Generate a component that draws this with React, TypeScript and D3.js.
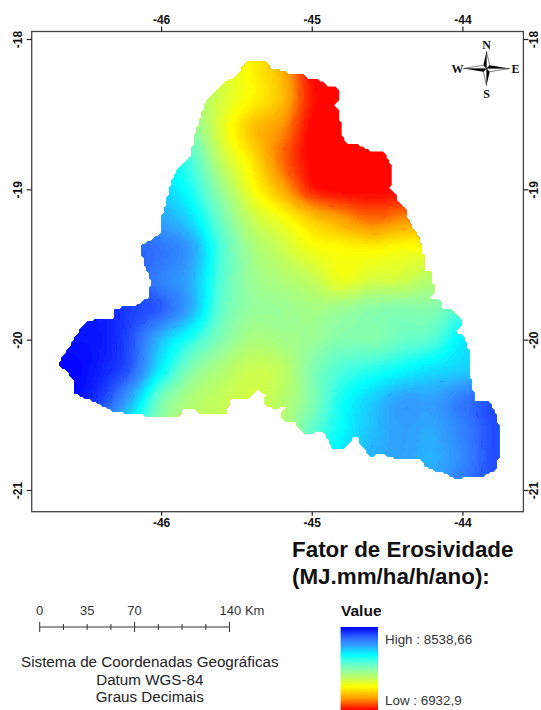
import React, { useEffect, useMemo, useRef } from "react";
import * as d3 from "d3";

const W = 541, H = 710;
const lonTicks = [-46, -45, -44];
const latTicks = [-18, -19, -20, -21];
const lowValue = "6932,9";
const highValue = "8538,66";

// Position of each node on the raster ramp, 0 = Low (red), 100 = High (blue)
const gridLon = [-46.8,-46.6,-46.4,-46.2,-46,-45.8,-45.6,-45.4,-45.2,-45,-44.8,-44.6,-44.4,-44.2,-44,-43.8,-43.6];
const gridLat = [-18,-18.2,-18.4,-18.6,-18.8,-19,-19.2,-19.4,-19.6,-19.8,-20,-20.2,-20.4,-20.6,-20.8,-21];
const gridRamp = [
[60,60,60,60,55,45,35,28,18,2,0,0,0,0,0,0,0],
[60,60,60,60,55,48,36,27,18,1,0,0,0,0,0,0,0],
[62,62,62,60,55,46,35,27,19,2,0,0,0,0,0,0,0],
[65,65,65,65,60,50,33,20,13,0,0,0,0,0,0,0,0],
[70,70,70,70,65,58,38,25,10,0,0,0,0,0,0,0,0],
[80,80,78,76,72,63,46,30,17,3,0,0,0,0,2,2,2],
[90,88,86,84,78,70,53,38,30,21,15,10,13,15,20,20,20],
[94,92,90,88,85,78,58,44,37,30,28,27,29,30,30,30,30],
[96,94,92,90,83,76,57,46,42,38,31,35,36,41,45,45,45],
[98,97,96,92,88,76,55,47,46,44,46,49,50,50,58,60,60],
[99,98,97,90,74,62,50,43,44,46,50,50,54,57,68,70,70],
[100,100,96,88,67,50,42,37,39,50,58,62,66,70,72,76,78],
[100,99,92,76,52,42,38,36,40,50,64,72,78,78,84,90,90],
[100,96,84,66,48,42,38,38,42,55,66,74,78,77,83,90,90],
[100,96,84,66,48,42,38,40,48,60,70,76,78,76,82,90,90],
[100,96,84,66,48,42,38,40,48,62,72,78,78,78,85,90,90],
];

const boundaryLon = [-45.455,-45.432,-45.306,-45.271,-45.203,-45.123,-45.054,-45.031,-44.951,-44.905,-44.818,-44.818,-44.852,-44.825,-44.82,-44.793,-44.793,-44.767,-44.676,-44.607,-44.515,-44.493,-44.463,-44.463,-44.481,-44.435,-44.424,-44.378,-44.355,-44.321,-44.293,-44.263,-44.247,-44.257,-44.199,-44.192,-44.218,-44.149,-44.137,-44.08,-44.011,-44.007,-44.05,-44,-43.959,-43.954,-43.927,-43.92,-43.828,-43.782,-43.759,-43.759,-43.782,-43.863,-43.989,-44.023,-44.08,-44.137,-44.172,-44.241,-44.28,-44.321,-44.424,-44.515,-44.619,-44.641,-44.687,-44.687,-44.722,-44.779,-44.859,-44.893,-44.928,-45.031,-45.077,-45.111,-45.18,-45.21,-45.164,-45.249,-45.317,-45.306,-45.363,-45.42,-45.546,-45.569,-45.741,-45.787,-45.867,-45.874,-45.993,-46.153,-46.314,-46.428,-46.577,-46.577,-46.623,-46.68,-46.612,-46.543,-46.479,-46.314,-46.318,-46.222,-46.142,-46.073,-46.069,-46.119,-46.124,-46.062,-46.005,-45.993,-45.963,-45.924,-45.879,-45.798,-45.775,-45.753,-45.695,-45.604,-45.489];
const boundaryLat = [-18.173,-18.157,-18.157,-18.195,-18.21,-18.241,-18.237,-18.259,-18.272,-18.306,-18.328,-18.405,-18.445,-18.472,-18.534,-18.565,-18.649,-18.693,-18.707,-18.744,-18.749,-18.804,-18.859,-18.915,-19.003,-19.037,-19.092,-19.132,-19.214,-19.269,-19.313,-19.424,-19.513,-19.535,-19.557,-19.69,-19.723,-19.739,-19.79,-19.796,-19.856,-19.911,-19.945,-19.973,-20.066,-20.233,-20.354,-20.416,-20.403,-20.487,-20.576,-20.775,-20.864,-20.908,-20.908,-20.93,-20.908,-20.875,-20.875,-20.842,-20.786,-20.786,-20.797,-20.764,-20.771,-20.731,-20.675,-20.638,-20.642,-20.72,-20.731,-20.653,-20.602,-20.631,-20.587,-20.547,-20.547,-20.492,-20.443,-20.461,-20.432,-20.365,-20.332,-20.388,-20.399,-20.498,-20.498,-20.454,-20.454,-20.52,-20.514,-20.498,-20.476,-20.421,-20.354,-20.277,-20.21,-20.166,-20.055,-19.945,-19.874,-19.856,-19.805,-19.779,-19.767,-19.712,-19.601,-19.468,-19.369,-19.336,-19.302,-19.18,-19.081,-18.937,-18.848,-18.771,-18.649,-18.571,-18.405,-18.306,-18.239];

const rampStops = [0,14,28,38,48,58,66,78,86,100];
const rampColors = ["#ff0000","#ff9a00","#ffff00","#c4ff5a","#90ffa4","#50ffdc","#00ffff","#30a0ff","#3070ff","#0000ff"];
const warmLevels = [9, 18, 36, 44, 52];
const coolLevels = [62, 75, 88, 94];

const scaleKm = [0,35,70,140];
const scaleMinor = [0,17.5,35,52.5,70,87.5,105,122.5,140];
const noteLines = ["Sistema de Coordenadas Geográficas","Datum WGS-84","Graus Decimais"];

const frame = { l: 31.7, r: 523.4, t: 31.5, b: 511.7 };
const FONT = "'Liberation Sans', Arial, sans-serif";
const x = d3.scaleLinear().domain([-46, -44]).range([161.1, 462.4]);
const y = d3.scaleLinear().domain([-18, -21]).range([39, 490]);
const ramp = d3.scaleLinear<string>().domain(rampStops).range(rampColors).interpolate(d3.interpolateRgb).clamp(true);
const CELL = 2.5;

function catmull(p0: number, p1: number, p2: number, p3: number, t: number) {
  return 0.5 * (2 * p1 + (p2 - p0) * t + (2 * p0 - 5 * p1 + 4 * p2 - p3) * t * t + (3 * p1 - p0 - 3 * p2 + p3) * t * t * t);
}
function sample(lon: number, lat: number) {
  const nc = gridLon.length, nr = gridLat.length;
  const fc = Math.max(0, Math.min(nc - 1.001, (lon - gridLon[0]) / 0.2));
  const fr = Math.max(0, Math.min(nr - 1.001, (gridLat[0] - lat) / 0.2));
  const c = Math.floor(fc), r = Math.floor(fr);
  const at = (a: number, b: number) => gridRamp[Math.max(0, Math.min(nr - 1, a))][Math.max(0, Math.min(nc - 1, b))];
  const rowV = [-1, 0, 1, 2].map((k) => catmull(at(r + k, c - 1), at(r + k, c), at(r + k, c + 1), at(r + k, c + 2), fc - c));
  return Math.max(0, Math.min(100, catmull(rowV[0], rowV[1], rowV[2], rowV[3], fr - r)));
}

function Compass({ cx, cy }: { cx: number; cy: number }) {
  const a = 3.2, n = 17, e = 23;
  return (
    <g>
      <polygon points={`${cx},${cy - n} ${cx - a},${cy - a} ${cx},${cy}`} fill="#000" />
      <polygon points={`${cx},${cy - n} ${cx + a},${cy - a} ${cx},${cy}`} fill="#fff" stroke="#000" strokeWidth={0.5} />
      <polygon points={`${cx},${cy + n} ${cx + a},${cy + a} ${cx},${cy}`} fill="#000" />
      <polygon points={`${cx},${cy + n} ${cx - a},${cy + a} ${cx},${cy}`} fill="#fff" stroke="#000" strokeWidth={0.5} />
      <polygon points={`${cx - e},${cy} ${cx - a},${cy + a} ${cx},${cy}`} fill="#000" />
      <polygon points={`${cx - e},${cy} ${cx - a},${cy - a} ${cx},${cy}`} fill="#fff" stroke="#000" strokeWidth={0.5} />
      <polygon points={`${cx + e},${cy} ${cx + a},${cy - a} ${cx},${cy}`} fill="#000" />
      <polygon points={`${cx + e},${cy} ${cx + a},${cy + a} ${cx},${cy}`} fill="#fff" stroke="#000" strokeWidth={0.5} />
      <g fontFamily="'Liberation Serif', serif" fontWeight="bold" fontSize={12} textAnchor="middle" fill="#111">
        <text x={cx} y={cy - 20}>N</text>
        <text x={cx} y={cy + 29}>S</text>
        <text x={cx - 29} y={cy + 4}>W</text>
        <text x={cx + 29} y={cy + 4}>E</text>
      </g>
    </g>
  );
}

export default function App() {
  const topRef = useRef<SVGGElement>(null);
  const botRef = useRef<SVGGElement>(null);
  const leftRef = useRef<SVGGElement>(null);
  const rightRef = useRef<SVGGElement>(null);

  const { bands, lines, outline } = useMemo(() => {
    const poly = boundaryLon.map((v, i) => [v, boundaryLat[i]] as [number, number]);
    const nx = Math.ceil((frame.r - frame.l) / CELL), ny = Math.ceil((frame.b - frame.t) / CELL);
    const vals = new Array(nx * ny);
    const full = new Array(nx * ny);
    for (let j = 0; j < ny; j++)
      for (let i = 0; i < nx; i++) {
        const lon = x.invert(frame.l + (i + 0.5) * CELL), lat = y.invert(frame.t + (j + 0.5) * CELL);
        const v = sample(lon, lat);
        full[j * nx + i] = v;
        vals[j * nx + i] = d3.polygonContains(poly, [lon, lat]) ? v : NaN;
      }
    const path = d3.geoPath();
    const gen = d3.contours().size([nx, ny]).smooth(false).thresholds(d3.range(0, 100, 1));
    const bands = gen(vals as number[]).map((c) => ({ t: c.value, d: path(c) || "" }));
    const lineGen = d3.contours().size([nx, ny]).smooth(false).thresholds([...warmLevels, ...coolLevels]);
    const lines = lineGen(full as number[]).map((c) => ({ t: c.value, d: path(c) || "" }));
    const outline = poly.map(([a, b]) => `${(x(a) - frame.l) / CELL},${(y(b) - frame.t) / CELL}`).join(" ");
    return { bands, lines, outline };
  }, []);

  useEffect(() => {
    const fmt = (d: d3.NumberValue) => String(d);
    const style = (g: d3.Selection<SVGGElement, unknown, null, undefined>) => {
      g.select(".domain").remove();
      g.selectAll("line").attr("stroke", "#222").attr("stroke-width", 1.2);
      g.selectAll("text").attr("font-family", FONT).attr("font-size", 12).attr("font-weight", "bold").attr("fill", "#111");
    };
    d3.select(topRef.current!).call(d3.axisTop(x).tickValues(lonTicks).tickFormat(fmt).tickSize(5).tickPadding(3)).call(style);
    d3.select(botRef.current!).call(d3.axisBottom(x).tickValues(lonTicks).tickFormat(fmt).tickSize(4).tickPadding(2.5)).call(style);
    d3.select(leftRef.current!).call(d3.axisLeft(y).tickValues(latTicks).tickFormat(fmt).tickSize(5).tickPadding(3)).call(style);
    d3.select(rightRef.current!).call(d3.axisRight(y).tickValues(latTicks).tickFormat(fmt).tickSize(5).tickPadding(3)).call(style);
    d3.select(leftRef.current!).selectAll("text").attr("transform", "rotate(-90)").attr("x", 0).attr("y", -14).attr("dy", "0.35em").attr("text-anchor", "middle");
    d3.select(rightRef.current!).selectAll("text").attr("transform", "rotate(-90)").attr("x", 0).attr("y", 10.5).attr("dy", "0.35em").attr("text-anchor", "middle");
  }, []);

  const kmScale = d3.scaleLinear().domain([0, 140]).range([39.7, 229.5]);
  const legendStops = rampStops.map((s) => ({ off: 100 - s, col: ramp(s) })).reverse();

  return (
    <svg width={W} height={H} style={{ position: "absolute", left: 0, top: 0, display: "block", background: "#fff" }}>
      <defs>
        <linearGradient id="legendRamp" x1="0" y1="0" x2="0" y2="1">
          {legendStops.map((s) => (
            <stop key={s.off} offset={`${s.off}%`} stopColor={s.col} />
          ))}
        </linearGradient>
        <clipPath id="areaClip">
          <polygon points={outline} />
        </clipPath>
      </defs>
      <g transform={`translate(${frame.l},${frame.t}) scale(${CELL})`}>
        {bands.map((b) => (
          <path key={b.t} d={b.d} fill={ramp(b.t + 0.5)} stroke="none" />
        ))}
        <g clipPath="url(#areaClip)" fill="none">
          {lines.map((l) => (
            <path
              key={l.t}
              d={l.d}
              stroke={ramp(warmLevels.includes(l.t) ? l.t - 7 : l.t + 7)}
              strokeWidth={0.26}
              strokeDasharray="3 9"
              opacity={0.6}
            />
          ))}
        </g>
      </g>
      <rect x={frame.l} y={frame.t} width={frame.r - frame.l} height={frame.b - frame.t} fill="none" stroke="#444" strokeWidth={1.3} />
      <g ref={topRef} transform={`translate(0,${frame.t})`} />
      <g ref={botRef} transform={`translate(0,${frame.b})`} />
      <g ref={leftRef} transform={`translate(${frame.l},0)`} />
      <g ref={rightRef} transform={`translate(${frame.r},0)`} />
      <Compass cx={486.5} cy={68.5} />

      <g fontFamily={FONT} fontWeight="bold" fontSize={22.4} fill="#111">
        <text x={292} y={557}>Fator de Erosividade</text>
        <text x={292} y={584}>(MJ.mm/ha/h/ano):</text>
      </g>
      <text x={341} y={616} fontFamily={FONT} fontWeight="bold" fontSize={15.5} fill="#111">Value</text>
      <rect x={340.6} y={627} width={37.4} height={83} fill="url(#legendRamp)" />
      <g fontFamily={FONT} fontSize={13.4} fill="#333">
        <text x={385} y={644}>{`High : ${highValue}`}</text>
        <text x={385} y={705}>{`Low : ${lowValue}`}</text>
      </g>

      <g stroke="#333" strokeWidth={1}>
        <line x1={kmScale(0)} x2={kmScale(140)} y1={627} y2={627} />
        {scaleMinor.map((k) => {
          const major = k === 0 || k === 70 || k === 140;
          return <line key={k} x1={kmScale(k)} x2={kmScale(k)} y1={major ? 622 : 624} y2={major ? 632 : 630} />;
        })}
      </g>
      <g fontFamily={FONT} fontSize={13} fill="#333" textAnchor="middle">
        {scaleKm.slice(0, 3).map((k) => (
          <text key={k} x={kmScale(k)} y={615}>{k}</text>
        ))}
        <text x={kmScale(140) + 12.5} y={615}>140 Km</text>
      </g>
      <g fontFamily={FONT} fontSize={15.2} fill="#222" textAnchor="middle">
        {noteLines.map((l, i) => (
          <text key={l} x={149.8} y={667 + i * 17.5}>{l}</text>
        ))}
      </g>
    </svg>
  );
}
